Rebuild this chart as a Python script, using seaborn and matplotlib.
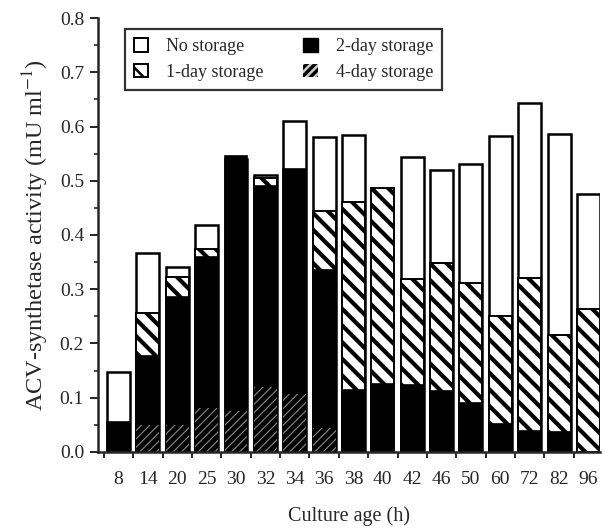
"""ACV-synthetase activity vs culture age for different storage times."""

import numpy as np
import pandas as pd
import matplotlib
matplotlib.use("Agg")
import matplotlib.pyplot as plt
from matplotlib.patches import Patch
from matplotlib.ticker import MultipleLocator
import seaborn as sns

ages = ["8", "14", "20", "25", "30", "32", "34", "36", "38",
        "40", "42", "46", "50", "60", "72", "82", "96"]
no_storage = [0.148, 0.367, 0.341, 0.418, 0.540, 0.511, 0.611, 0.581, 0.584,
              np.nan, 0.544, 0.519, 0.530, 0.583, 0.644, 0.586, 0.476]
day1 = [np.nan, 0.257, 0.323, 0.375, np.nan, 0.505, np.nan, 0.445, 0.461,
        0.486, 0.319, 0.349, 0.311, 0.251, 0.321, 0.216, 0.264]
day2 = [0.056, 0.176, 0.286, 0.360, 0.546, 0.491, 0.521, 0.336, 0.114,
        0.125, 0.123, 0.113, 0.090, 0.052, 0.039, 0.037, np.nan]
day4 = [np.nan, 0.050, 0.050, 0.081, 0.075, 0.120, 0.107, 0.044, np.nan,
        np.nan, np.nan, np.nan, np.nan, np.nan, np.nan, np.nan, np.nan]

df = pd.DataFrame({"age": ages, "none": no_storage, "d1": day1,
                   "d2": day2, "d4": day4})

sns.set_style("ticks")
plt.rcParams["font.family"] = ["Liberation Serif", "DejaVu Serif"]
plt.rcParams["mathtext.fontset"] = "stix"
plt.rcParams["hatch.linewidth"] = 3.0

fig, ax = plt.subplots(figsize=(6.05, 5.31), dpi=100)
fig.subplots_adjust(left=0.162, right=0.992, top=0.966, bottom=0.149)

w = 0.78
common = dict(data=df, x="age", order=ages, width=w, errorbar=None,
              saturation=1, ax=ax)
sns.barplot(y="none", color="white", edgecolor="black", linewidth=1.8, **common)
sns.barplot(y="d1", color="white", edgecolor="black", linewidth=1.4,
            hatch="\\\\", **common)
sns.barplot(y="d2", color="black", edgecolor="black", linewidth=1.2, **common)

# fine hatch on black, needs a light hatch colour
plt.rcParams["hatch.linewidth"] = 0.8
sns.barplot(y="d4", color="black", edgecolor="#8a8a8a", linewidth=0,
            hatch="////", **common)

ax.set_xlim(-0.7, 16.4)
ax.set_ylim(0, 0.8)
ax.yaxis.set_major_locator(MultipleLocator(0.1))
ax.yaxis.set_minor_locator(MultipleLocator(0.05))
ax.set_yticklabels([f"{v:.1f}" for v in ax.get_yticks()])
ax.set_xticks(np.arange(len(ages)))
ax.set_xticklabels(ages)
ax.set_xticks(np.arange(len(ages)) - 0.5, minor=True)
ax.tick_params(axis="x", which="major", length=0, pad=14, labelsize=14)
ax.tick_params(axis="x", which="minor", length=4, width=1.4, direction="out")
ax.tick_params(axis="y", which="major", length=6, width=1.4, labelsize=14,
               pad=4)
ax.tick_params(axis="y", which="minor", length=3, width=1.2)
for s in ("left", "bottom"):
    ax.spines[s].set_linewidth(1.8)
sns.despine(ax=ax)

ax.set_xlabel("Culture age (h)", fontsize=14.5, labelpad=13)
ax.set_ylabel("ACV-synthetase activity (mU ml$^{-1}$)", fontsize=17.5,
              labelpad=6)

plt.rcParams["hatch.linewidth"] = 1.8
handles = [
    Patch(facecolor="white", edgecolor="black", linewidth=1.4, label="No storage"),
    Patch(facecolor="white", edgecolor="black", linewidth=1.4, hatch="\\\\",
          label="1-day storage"),
    Patch(facecolor="black", edgecolor="black", label="2-day storage"),
    Patch(facecolor="black", edgecolor="#cccccc", hatch="////", linewidth=0,
          label="4-day storage"),
]
leg = ax.legend(handles=handles, ncol=2, loc="upper left",
                bbox_to_anchor=(0.035, 0.995), frameon=True, fancybox=False,
                edgecolor="black", fontsize=13, handlelength=0.8,
                handleheight=0.8, columnspacing=2.2, borderpad=0.5,
                labelspacing=0.45, handletextpad=1.0)
leg.get_frame().set_linewidth(1.6)

fig.savefig("out.png", dpi=100)
